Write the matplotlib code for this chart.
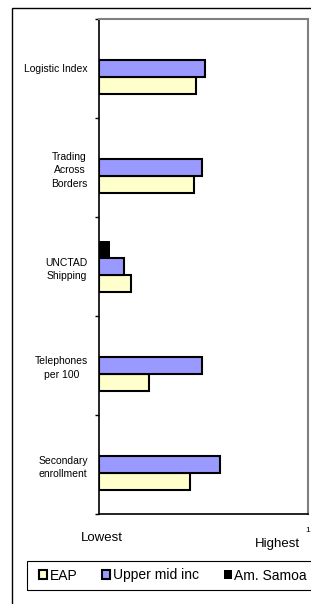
import matplotlib.pyplot as plt
from matplotlib.patches import Rectangle
import numpy as np

# categories top to bottom
categories = ['Logistic Index', 'Trading\nAcross\nBorders', 'UNCTAD\nShipping',
              'Telephones\nper 100', 'Secondary\nenrollment']
eap = [0.464, 0.455, 0.153, 0.239, 0.437]
upper_mid = [0.507, 0.493, 0.120, 0.493, 0.578]
am_samoa = [0.0, 0.0, 0.052, 0.0, 0.0]

plt.rcParams['font.family'] = ['Liberation Sans', 'DejaVu Sans']
fig = plt.figure(figsize=(3.11, 6.04), dpi=100)

# outer frame
fig.patches.append(Rectangle((12/311, -0.1), 1.2, 1 - 8/604 + 0.1, transform=fig.transFigure,
                             fill=False, edgecolor='black', linewidth=1.0))
# legend frame (runs off the right edge like the original)
fig.patches.append(Rectangle((27/311, 1 - 590/604), 1.0, 29/604, transform=fig.transFigure,
                             fill=False, edgecolor='black', linewidth=0.8))

ax = fig.add_axes([99/311, 1 - 514/604, 209/311, 495/604])
y = np.arange(len(categories))
h = 0.175
ax.barh(y + h, eap, height=h, color='#FFFFCC', edgecolor='black', linewidth=1.5, label='EAP')
ax.barh(y, upper_mid, height=h, color='#9999FF', edgecolor='black', linewidth=1.5, label='Upper mid inc')
ax.barh(y - h, am_samoa, height=h, color='black', edgecolor='black', linewidth=0, label='Am. Samoa')

ax.set_xlim(0, 1)
ax.set_ylim(len(categories) - 0.5, -0.5)
ax.set_xticks([])
ax.set_yticks(np.arange(-0.5, len(categories)), [''] * (len(categories) + 1))
ax.set_yticks(y, categories, minor=True)
ax.tick_params(axis='y', which='major', length=3, width=1, direction='out')
ax.tick_params(axis='y', which='minor', length=0, pad=8, labelsize=7.5)
for lbl in ax.get_yticklabels(minor=True):
    lbl.set_multialignment('center')
    lbl.set_linespacing(1.45)

for s in ['top', 'right']:
    ax.spines[s].set_color('#808080')
    ax.spines[s].set_linewidth(1.5)
ax.spines['left'].set_linewidth(1.2)
ax.spines['bottom'].set_linewidth(1.2)

fig.text(102/311, 1 - 538/604, 'Lowest', ha='center', va='center', fontsize=9.5)
fig.text(277/311, 1 - 544/604, 'Highest', ha='center', va='center', fontsize=9.5)
fig.text(305/311, 1 - 531/604, '1', ha='left', va='center', fontsize=6)

handles, labels = ax.get_legend_handles_labels()
leg = fig.legend(handles, labels, loc='center left', ncol=3,
                 bbox_to_anchor=(39/311, 1 - 575.5/604),
                 fontsize=10, frameon=False,
                 handlelength=0.6, handleheight=0.6, handletextpad=0.15, borderaxespad=0,
                 columnspacing=1.8, borderpad=0)

fig.savefig('out.png', dpi=100)
